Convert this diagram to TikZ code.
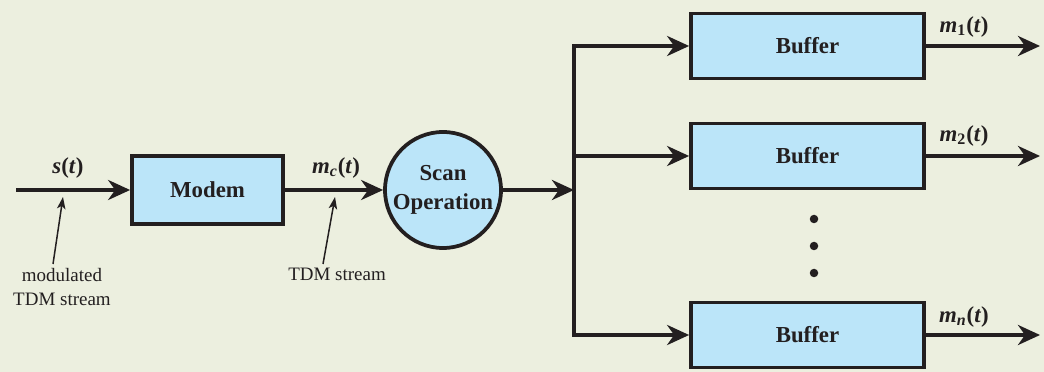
\documentclass[tikz,border=0pt]{standalone}
\usepackage{fontspec}
\setmainfont{Liberation Serif}
\usetikzlibrary{arrows.meta}
\usetikzlibrary{calc}
\definecolor{bgcol}{RGB}{236,239,223}
\definecolor{boxcol}{RGB}{187,229,249}
\definecolor{inkcol}{RGB}{35,31,32}
\newcommand{\sig}[1]{\textit{#1}}

\begin{document}
\begin{tikzpicture}[x=0.2mm, y=-0.2mm,
>={Stealth[length=4.4mm, width=4mm, inset=1.4mm]},
block/.style={draw=inkcol, line width=.75mm, fill=boxcol, inner sep=0,
  font=\fontsize{13}{16}\selectfont\bfseries, text=inkcol},
buffer/.style={block, minimum width=46.6mm, minimum height=13mm},
flow/.style={->, draw=inkcol, line width=.8mm},
note/.style={-{Stealth[length=2.4mm, width=1.7mm, inset=.6mm]}, draw=inkcol, line width=.3mm},
signal/.style={inner sep=0, text=inkcol, font=\fontsize{13}{15}\selectfont\bfseries},
felirat/.style={inner sep=0, text=inkcol, align=center, font=\fontsize{10.8}{13.6}\selectfont}]
\fill[bgcol] (0,0) rectangle (1044,372);
\useasboundingbox (0,0) rectangle (1044,372);
\coordinate (in) at (16,190);
\coordinate (split) at (574,190);
\node[block, minimum width=30.2mm, minimum height=13.6mm] (modem) at (207.5,190) {Modem};
\node[block, circle, minimum size=23.2mm, align=center, font=\fontsize{13}{16.8}\selectfont\bfseries] (scan) at (443,190) {Scan\\Operation};
\node[buffer] (buf1) at (807.5,46) {Buffer};
\node[buffer] (buf2) at (807.5,156) {Buffer};
\node[buffer] (bufn) at (807.5,335) {Buffer};
\coordinate (out1) at (1040,46);
\coordinate (out2) at (1040,156);
\coordinate (outn) at (1040,335);
\draw[flow] (in) -- (modem);
\draw[flow] (modem) -- (scan);
\draw[flow] (scan) -- (split);
\draw[flow] (split) |- (buf1);
\draw[flow] (split) |- (buf2);
\draw[flow] (split) |- (bufn);
\draw[flow] (buf1) -- (out1);
\draw[flow] (buf2) -- (out2);
\draw[flow] (bufn) -- (outn);
\foreach \y [count=\i] in {219,246,273}
  \fill[inkcol] (814,\y) circle (.85mm) coordinate (dot\i);
\node[signal] (st) at (68,168) {\sig{s}(\sig{t})};
\node[signal] (mct) at (336,168) {\sig{m}\textsubscript{\sig{c}}(\sig{t})};
\node[signal] (m1t) at (964,27) {\sig{m}\textsubscript{1}(\sig{t})};
\node[signal] (m2t) at (964,136) {\sig{m}\textsubscript{2}(\sig{t})};
\node[signal] (mnt) at (964,317) {\sig{m}\textsubscript{\sig{n}}(\sig{t})};
\node[felirat, anchor=north] (modtxt) at (62,268) {modulated\\TDM stream};
\node[felirat, anchor=north] (tdmtxt) at (337,268) {TDM stream};
\coordinate (tip1) at (63,197);
\coordinate (tip2) at (335,197);
\draw[note] ($(modtxt.north)+(-9,-4)$) -- (tip1);
\draw[note] ($(tdmtxt.north)+(-14,-4)$) -- (tip2);
\end{tikzpicture}
\end{document}
